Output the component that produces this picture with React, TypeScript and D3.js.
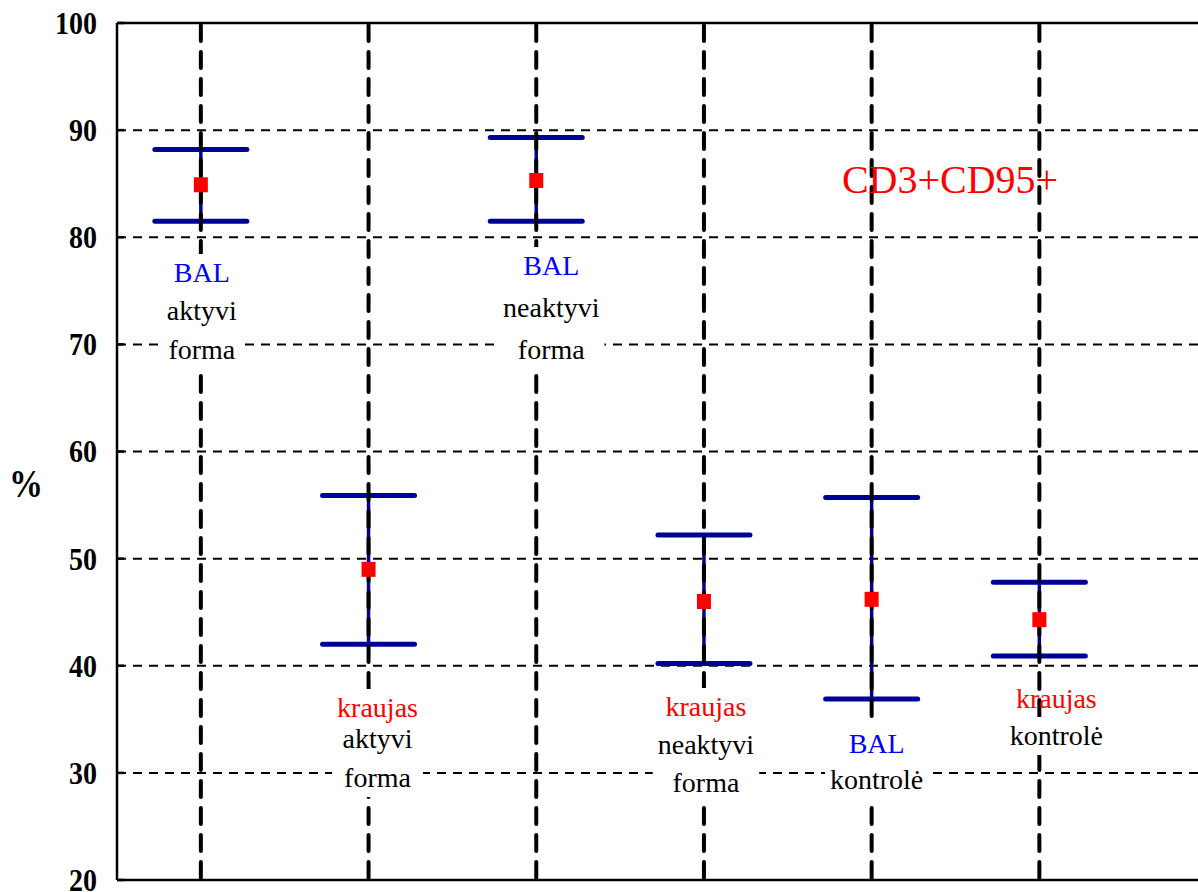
import React, { useEffect, useRef } from "react";
import * as d3 from "d3";

// Groups along the x axis
const categories = [
  "BAL aktyvi forma",
  "kraujas aktyvi forma",
  "BAL neaktyvi forma",
  "kraujas neaktyvi forma",
  "BAL kontrolė",
  "kraujas kontrolė",
];

// Mean (%) and interval bounds for each group
const means = [84.9, 49.0, 85.3, 46.0, 46.2, 44.3];
const upper = [88.2, 55.9, 89.3, 52.2, 55.7, 47.8];
const lower = [81.5, 42.0, 81.5, 40.2, 36.9, 40.9];

const yTicks = [20, 30, 40, 50, 60, 70, 80, 90, 100];

// Text lines printed next to each group: first word tells the sample type
const labelLines: string[][] = [
  ["BAL", "aktyvi", "forma"],
  ["kraujas", "aktyvi", "forma"],
  ["BAL", "neaktyvi", "forma"],
  ["kraujas", "neaktyvi", "forma"],
  ["BAL", "kontrolė"],
  ["kraujas", "kontrolė"],
];

const title = "CD3+CD95+";
const yLabel = "%";

// Label placement (offset from group centre, baselines) and which lines get a white backing
const labelLayout = [
  { dx: 1, baselines: [282, 320, 359], boxed: [true, true, true] },
  { dx: 9, baselines: [717, 748, 787], boxed: [true, true, true] },
  { dx: 15, baselines: [275, 317, 359], boxed: [true, true, true] },
  { dx: 2, baselines: [716, 754, 792], boxed: [true, true, true] },
  { dx: 5, baselines: [753, 789], boxed: [true, true] },
  { dx: 17, baselines: [708, 745], boxed: [false, true] },
];

const W = 1198;
const H = 892;
const left = 117;
const top = 23;
const bottom = 880;
const band = 167.7;

const BAR = "#000096";
const BLUE = "#0000FF";
const RED = "#FF0000";
const SERIF = '"Liberation Serif", "Times New Roman", Times, serif';

export default function App() {
  const ref = useRef<SVGSVGElement>(null);

  useEffect(() => {
    const svg = d3.select(ref.current);
    svg.selectAll("*").remove();

    const x = d3
      .scaleBand<string>()
      .domain(categories)
      .range([left, left + band * categories.length])
      .padding(0);
    const y = d3.scaleLinear().domain([20, 100]).range([bottom, top]);
    const cx = (c: string) => (x(c) as number) + x.bandwidth() / 2;

    // horizontal dashed grid
    svg
      .append("g")
      .selectAll("line")
      .data(yTicks.filter((t) => t > 20 && t < 100))
      .join("line")
      .attr("x1", left)
      .attr("x2", W)
      .attr("y1", (d) => y(d))
      .attr("y2", (d) => y(d))
      .attr("stroke", "#000")
      .attr("stroke-width", 2)
      .attr("stroke-dasharray", "9 7");

    // frame: top, left, bottom
    const frame = svg.append("g").attr("stroke", "#000").attr("stroke-width", 2.5);
    frame.append("line").attr("x1", left).attr("x2", W).attr("y1", y(100)).attr("y2", y(100));
    frame.append("line").attr("x1", left).attr("x2", W).attr("y1", y(20)).attr("y2", y(20));
    frame.append("line").attr("x1", left).attr("x2", left).attr("y1", y(100)).attr("y2", y(20));
    frame
      .selectAll("line.tick")
      .data(yTicks)
      .join("line")
      .attr("class", "tick")
      .attr("x1", left)
      .attr("x2", left + 7)
      .attr("y1", (d) => y(d))
      .attr("y2", (d) => y(d));

    // y tick labels (slightly tall bold digits)
    svg
      .append("g")
      .selectAll("text")
      .data(yTicks)
      .join("text")
      .attr("transform", (d) => `translate(97,${y(d)}) scale(1,1.12)`)
      .attr("dy", "0.35em")
      .attr("text-anchor", "end")
      .style("font-family", SERIF)
      .style("font-weight", "bold")
      .style("font-size", "28px")
      .text((d) => d);

    svg
      .append("text")
      .attr("transform", "translate(26,497) scale(1,1.15)")
      .attr("text-anchor", "middle")
      .style("font-family", SERIF)
      .style("font-weight", "bold")
      .style("font-size", "34px")
      .text(yLabel);

    // error bars
    const bars = svg.append("g").attr("stroke", BAR).attr("stroke-linecap", "round");
    categories.forEach((c, i) => {
      const px = cx(c);
      bars
        .append("line")
        .attr("x1", px)
        .attr("x2", px)
        .attr("y1", y(upper[i]))
        .attr("y2", y(lower[i]))
        .attr("stroke-width", 3.5);
      [upper[i], lower[i]].forEach((v) => {
        bars
          .append("line")
          .attr("x1", px - 46)
          .attr("x2", px + 46)
          .attr("y1", y(v))
          .attr("y2", y(v))
          .attr("stroke-width", 5);
      });
    });

    // vertical dashed drop lines through each group
    svg
      .append("g")
      .selectAll("line")
      .data(categories)
      .join("line")
      .attr("x1", (d) => cx(d))
      .attr("x2", (d) => cx(d))
      .attr("y1", y(100) + 2)
      .attr("y2", y(20))
      .attr("stroke", "#000")
      .attr("stroke-width", 4)
      .attr("stroke-linecap", "round")
      .attr("stroke-dasharray", "16 11");

    // group labels with white backing
    categories.forEach((c, i) => {
      const lay = labelLayout[i];
      const lx = cx(c) + lay.dx;
      const g = svg.append("g");
      const boxLayer = g.append("g");
      const texts = labelLines[i].map((t, j) =>
        g
          .append("text")
          .attr("x", lx)
          .attr("y", lay.baselines[j])
          .attr("text-anchor", "middle")
          .style("font-family", SERIF)
          .style("font-size", "28px")
          .attr("fill", j === 0 ? (t === "BAL" ? BLUE : RED) : "#000")
          .text(t)
      );
      const boxedIdx = lay.boxed.map((b, j) => (b ? j : -1)).filter((j) => j >= 0);
      if (boxedIdx.length) {
        const widths = boxedIdx.map((j) => (texts[j].node() as SVGTextElement).getComputedTextLength());
        const w = Math.max(...widths) + 10;
        const y0 = lay.baselines[boxedIdx[0]] - 28;
        const y1 = lay.baselines[boxedIdx[boxedIdx.length - 1]] + 10;
        boxLayer
          .append("rect")
          .attr("x", lx - w / 2)
          .attr("y", y0)
          .attr("width", w)
          .attr("height", y1 - y0)
          .attr("fill", "#fff");
      }
    });

    // mean markers
    svg
      .append("g")
      .selectAll("rect")
      .data(categories)
      .join("rect")
      .attr("x", (d) => cx(d) - 7)
      .attr("y", (d, i) => y(means[i]) - 7.5)
      .attr("width", 14)
      .attr("height", 15)
      .attr("fill", RED);

    svg
      .append("text")
      .attr("x", 950)
      .attr("y", 193)
      .attr("text-anchor", "middle")
      .style("font-family", SERIF)
      .style("font-size", "40px")
      .attr("fill", RED)
      .text(title);
  }, []);

  return (
    <div style={{ position: "absolute", left: 0, top: 0 }}>
      <svg ref={ref} width={W} height={H} style={{ display: "block", background: "#fff" }} />
    </div>
  );
}
